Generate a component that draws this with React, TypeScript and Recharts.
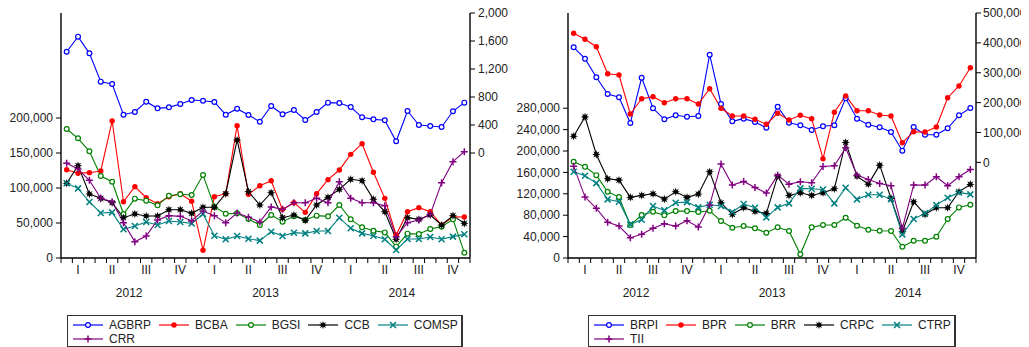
import React from "react";
import { LineChart, Line, XAxis, YAxis, Legend } from "recharts";

const years = ["2012", "2013", "2014"];
const quarters = ["I", "II", "III", "IV"];
const months = years.flatMap((y) =>
  ["01", "02", "03", "04", "05", "06", "07", "08", "09", "10", "11", "12"].map((m) => `${y}M${m}`)
);

// left panel
const agbrp = [1447, 1662, 1424, 1019, 986, 547, 586, 733, 638, 652, 700, 757, 747, 729, 547, 633, 543, 447, 671, 553, 614, 471, 586, 719, 714, 657, 510, 481, 467, 167, 600, 400, 386, 371, 596, 719];
const bcba = [126100, 121000, 121900, 124300, 195700, 80400, 101900, 86100, 77600, 87600, 91900, 81000, 11000, 87600, 91900, 189000, 91000, 103300, 110400, 69500, 79000, 65200, 91900, 111900, 125700, 148100, 163300, 122400, 85200, 32900, 66200, 71900, 66200, 47100, 59000, 58600];
const bgsi = [184300, 171000, 152400, 117100, 109000, 62900, 84800, 81900, 75200, 89000, 91000, 90000, 118600, 73300, 63300, 63800, 55700, 47100, 61400, 51900, 59500, 54300, 60500, 59500, 75700, 55200, 43800, 39000, 36600, 16200, 34800, 34300, 41400, 44800, 55200, 7600];
const ccb = [106700, 131900, 91400, 85200, 79000, 57600, 62900, 60000, 60000, 69000, 69000, 63800, 72400, 72400, 91900, 168600, 94800, 75700, 93300, 57600, 61400, 53800, 75700, 86700, 98100, 112400, 110400, 83800, 66200, 26700, 57600, 55200, 61400, 47100, 60500, 49500];
const comsp = [106700, 99500, 80000, 64300, 65200, 41000, 45700, 51400, 47100, 52900, 51400, 49500, 62900, 31900, 26700, 31400, 27600, 24800, 37600, 31400, 36200, 35200, 38600, 38600, 57600, 42400, 35200, 31900, 26700, 11400, 27100, 27100, 30000, 26700, 30500, 33800];
const crr = [135200, 127100, 111000, 85200, 80500, 50500, 23300, 31400, 54300, 60500, 59500, 53300, 67100, 60500, 50500, 64300, 58100, 51400, 72900, 69500, 79000, 79000, 85200, 79000, 109000, 85200, 79000, 79000, 74800, 30500, 50500, 54300, 62400, 107600, 137600, 151900];

// right panel
const brpi = [385200, 347100, 284800, 228900, 217900, 131900, 283500, 181100, 144300, 157600, 153000, 155300, 360500, 195500, 137600, 146300, 135200, 116100, 186400, 132900, 124200, 108400, 120800, 124200, 214500, 146300, 126200, 117500, 101700, 39200, 118500, 92700, 92700, 114100, 157600, 182100];
const bpr = [432100, 412000, 387200, 296900, 292500, 162000, 213200, 219900, 199800, 213200, 213200, 195500, 246700, 181100, 155300, 155300, 144300, 127500, 164300, 141900, 157600, 146300, 12400, 167700, 222200, 173000, 173000, 158600, 155300, 65900, 102700, 101700, 118500, 216500, 255700, 317000];
const brr = [179800, 170400, 154900, 123800, 113900, 61600, 80300, 86400, 79700, 87700, 87700, 85900, 88300, 69100, 56600, 59700, 55400, 47200, 57300, 50400, 6900, 57300, 61600, 61600, 75200, 60300, 52800, 51000, 50400, 21100, 32300, 32300, 39800, 72800, 94600, 99500];
const crpc = [227700, 263800, 193600, 148000, 145600, 113300, 117000, 120000, 110100, 123800, 113300, 119500, 161100, 103200, 81600, 93900, 87200, 83400, 153100, 117000, 121900, 117000, 121900, 129400, 216000, 153100, 138100, 173600, 111400, 49100, 105100, 81600, 93900, 93900, 123800, 137600];
const ctrp = [161100, 153600, 140000, 109600, 105100, 62900, 71500, 97100, 89000, 103200, 104500, 94600, 99500, 97100, 85900, 100800, 93900, 76000, 94600, 102100, 130100, 129400, 128200, 102100, 131200, 109600, 118200, 118200, 110100, 44200, 72800, 83400, 98900, 112600, 122600, 118900];
const tii = [171700, 113900, 92800, 66600, 59700, 37900, 44200, 55400, 64000, 59700, 69600, 57900, 98900, 175500, 136300, 143200, 132000, 121300, 154900, 138100, 142400, 140600, 171200, 172300, 205900, 154900, 146900, 139400, 135000, 55400, 136300, 136300, 151800, 135000, 151800, 165600];

const leftTicksA = [0, 50000, 100000, 150000, 200000];
const rightTicksA = [0, 400, 800, 1200, 1600, 2000];
const leftTicksB = [0, 40000, 80000, 120000, 160000, 200000, 240000, 280000];
const rightTicksB = [0, 100000, 200000, 300000, 400000, 500000];

type Kind = "open" | "dot" | "star" | "cross" | "plus";
type Series = { name: string; values: number[]; color: string; kind: Kind; axis: "left" | "right" };

const seriesA: Series[] = [
  { name: "AGBRP", values: agbrp, color: "#0000ff", kind: "open", axis: "right" },
  { name: "BCBA", values: bcba, color: "#ff0000", kind: "dot", axis: "left" },
  { name: "BGSI", values: bgsi, color: "#008000", kind: "open", axis: "left" },
  { name: "CCB", values: ccb, color: "#000000", kind: "star", axis: "left" },
  { name: "COMSP", values: comsp, color: "#008080", kind: "cross", axis: "left" },
  { name: "CRR", values: crr, color: "#800080", kind: "plus", axis: "left" },
];

const seriesB: Series[] = [
  { name: "BRPI", values: brpi, color: "#0000ff", kind: "open", axis: "right" },
  { name: "BPR", values: bpr, color: "#ff0000", kind: "dot", axis: "right" },
  { name: "BRR", values: brr, color: "#008000", kind: "open", axis: "left" },
  { name: "CRPC", values: crpc, color: "#000000", kind: "star", axis: "left" },
  { name: "CTRP", values: ctrp, color: "#008080", kind: "cross", axis: "left" },
  { name: "TII", values: tii, color: "#800080", kind: "plus", axis: "left" },
];

const FONT = "'Liberation Sans', Arial, sans-serif";
const xTicks = [-0.5, ...months.flatMap((_, i) => [i, i + 0.5])];
const fmt = (v: number) => v.toLocaleString("en-US");

function Mark({ kind, color, cx, cy }: { kind: Kind; color: string; cx: number; cy: number }) {
  if (cx == null || cy == null) return null;
  if (kind === "open") return <circle cx={cx} cy={cy} r={2.4} fill="#fff" stroke={color} strokeWidth={1.2} />;
  if (kind === "dot") return <circle cx={cx} cy={cy} r={2.7} fill={color} />;
  if (kind === "cross")
    return <path d={`M${cx - 3},${cy - 3}L${cx + 3},${cy + 3}M${cx - 3},${cy + 3}L${cx + 3},${cy - 3}`} stroke={color} strokeWidth={1.5} />;
  if (kind === "plus")
    return <path d={`M${cx - 3.5},${cy}L${cx + 3.5},${cy}M${cx},${cy - 3.5}L${cx},${cy + 3.5}`} stroke={color} strokeWidth={1.5} />;
  const pts: string[] = [];
  for (let k = 0; k < 16; k++) {
    const r = k % 2 === 0 ? 4.3 : 2;
    const a = (Math.PI * k) / 8;
    pts.push(`${cx + r * Math.sin(a)},${cy - r * Math.cos(a)}`);
  }
  return <polygon points={pts.join(" ")} fill={color} />;
}

function MonthTick(props: any) {
  const { x, y, payload } = props;
  const v = payload.value as number;
  if (v % 1 !== 0) {
    const yr = (v - 5.5) / 12;
    return (
      <g>
        <line x1={x} x2={x} y1={y} y2={y + 5} stroke="#000" />
        {Number.isInteger(yr) && years[yr] ? (
          <text x={x} y={y + 39} textAnchor="middle" fontSize={12} fontFamily={FONT} fill="#222">{years[yr]}</text>
        ) : null}
      </g>
    );
  }
  if (v % 3 === 1) {
    return <text x={x} y={y + 16} textAnchor="middle" fontSize={12} fontFamily={FONT} fill="#222">{quarters[((v - 1) / 3) % 4]}</text>;
  }
  return <g />;
}

function LegendBox({ series, left, width, perRow }: { series: Series[]; left: number; width: number; perRow: number }) {
  const rows = [series.slice(0, perRow), series.slice(perRow)];
  return (
    <div style={{ marginLeft: left, width, height: 32, boxSizing: "border-box", border: "1px solid #333", borderRightWidth: 2, padding: "2px 0 0 5px", background: "#fff", fontFamily: FONT }}>
      {rows.map((row, ri) => (
        <div key={ri} style={{ display: "flex", height: 14, alignItems: "center", whiteSpace: "nowrap" }}>
          {row.map((s) => (
            <div key={s.name} style={{ display: "flex", alignItems: "center", marginRight: 8 }}>
              <svg width={30} height={14}>
                <line x1={0} x2={30} y1={7} y2={7} stroke={s.color} strokeWidth={1.2} />
                <Mark kind={s.kind} color={s.color} cx={15} cy={7} />
              </svg>
              <span style={{ marginLeft: 6, fontSize: 12, color: "#222", lineHeight: "14px" }}>{s.name}</span>
            </div>
          ))}
        </div>
      ))}
    </div>
  );
}

type PanelProps = {
  series: Series[];
  width: number;
  marginRight: number;
  leftW: number;
  rightW: number;
  leftDomain: [number, number];
  leftTicks: number[];
  rightDomain: [number, number];
  rightTicks: number[];
  rightGap: number;
  legendLeft: number;
  legendWidth: number;
};

function Panel(p: PanelProps) {
  const data = months.map((m, i) => {
    const row: any = { t: i, month: m };
    p.series.forEach((s) => (row[s.name] = s.values[i]));
    return row;
  });
  const axisLine = { stroke: "#000", strokeWidth: 1.4 };
  const tickStyle = { fontSize: 12, fill: "#222", fontFamily: FONT };
  return (
    <LineChart width={p.width} height={346} data={data} margin={{ top: 12, right: p.marginRight, left: 0, bottom: 0 }}>
      <XAxis xAxisId="top" orientation="top" type="number" dataKey="t" domain={[-0.5, 35.5]} height={0} tick={false} tickLine={false} axisLine={axisLine} />
      <XAxis xAxisId="x" type="number" dataKey="t" domain={[-0.5, 35.5]} ticks={xTicks} interval={0} tickSize={0} tickMargin={0} tickLine={false} tick={(t: any) => <MonthTick {...t} />} height={57} axisLine={axisLine} />
      <YAxis yAxisId="left" width={p.leftW} domain={p.leftDomain} ticks={p.leftTicks} interval={0} tickFormatter={fmt} tickSize={5} tickMargin={3} tick={tickStyle} axisLine={axisLine} tickLine={{ stroke: "#000" }} />
      <YAxis yAxisId="right" orientation="right" width={p.rightW} domain={p.rightDomain} ticks={p.rightTicks} interval={0} tickFormatter={fmt} tickSize={5} tickMargin={p.rightGap} tick={tickStyle} axisLine={axisLine} tickLine={{ stroke: "#000" }} />
      {p.series.map((s) => (
        <Line
          key={s.name}
          xAxisId="x"
          yAxisId={s.axis}
          dataKey={s.name}
          type="linear"
          stroke={s.color}
          strokeWidth={1.1}
          dot={(d: any) => <Mark key={d.index} kind={s.kind} color={s.color} cx={d.cx} cy={d.cy} />}
          activeDot={false}
          isAnimationActive={false}
        />
      ))}
      <Legend verticalAlign="bottom" content={() => <LegendBox series={p.series} left={p.legendLeft} width={p.legendWidth} perRow={5} />} />
    </LineChart>
  );
}

export default function App() {
  return (
    <div style={{ position: "relative", width: 1013, height: 339, fontFamily: FONT }}>
      <div style={{ position: "absolute", left: 0, top: -7 }}>
        <Panel series={seriesA} width={515} marginRight={15} leftW={53} rightW={38} leftDomain={[0, 350000]} leftTicks={leftTicksA} rightDomain={[-1500, 2000]} rightTicks={rightTicksA} rightGap={3} legendLeft={59} legendWidth={396} />
      </div>
      <div style={{ position: "absolute", left: 500, top: -7 }}>
        <Panel series={seriesB} width={521} marginRight={0} leftW={60} rightW={53} leftDomain={[0, 458000]} leftTicks={leftTicksB} rightDomain={[-320000, 500000]} rightTicks={rightTicksB} rightGap={2} legendLeft={80} legendWidth={368} />
      </div>
    </div>
  );
}
